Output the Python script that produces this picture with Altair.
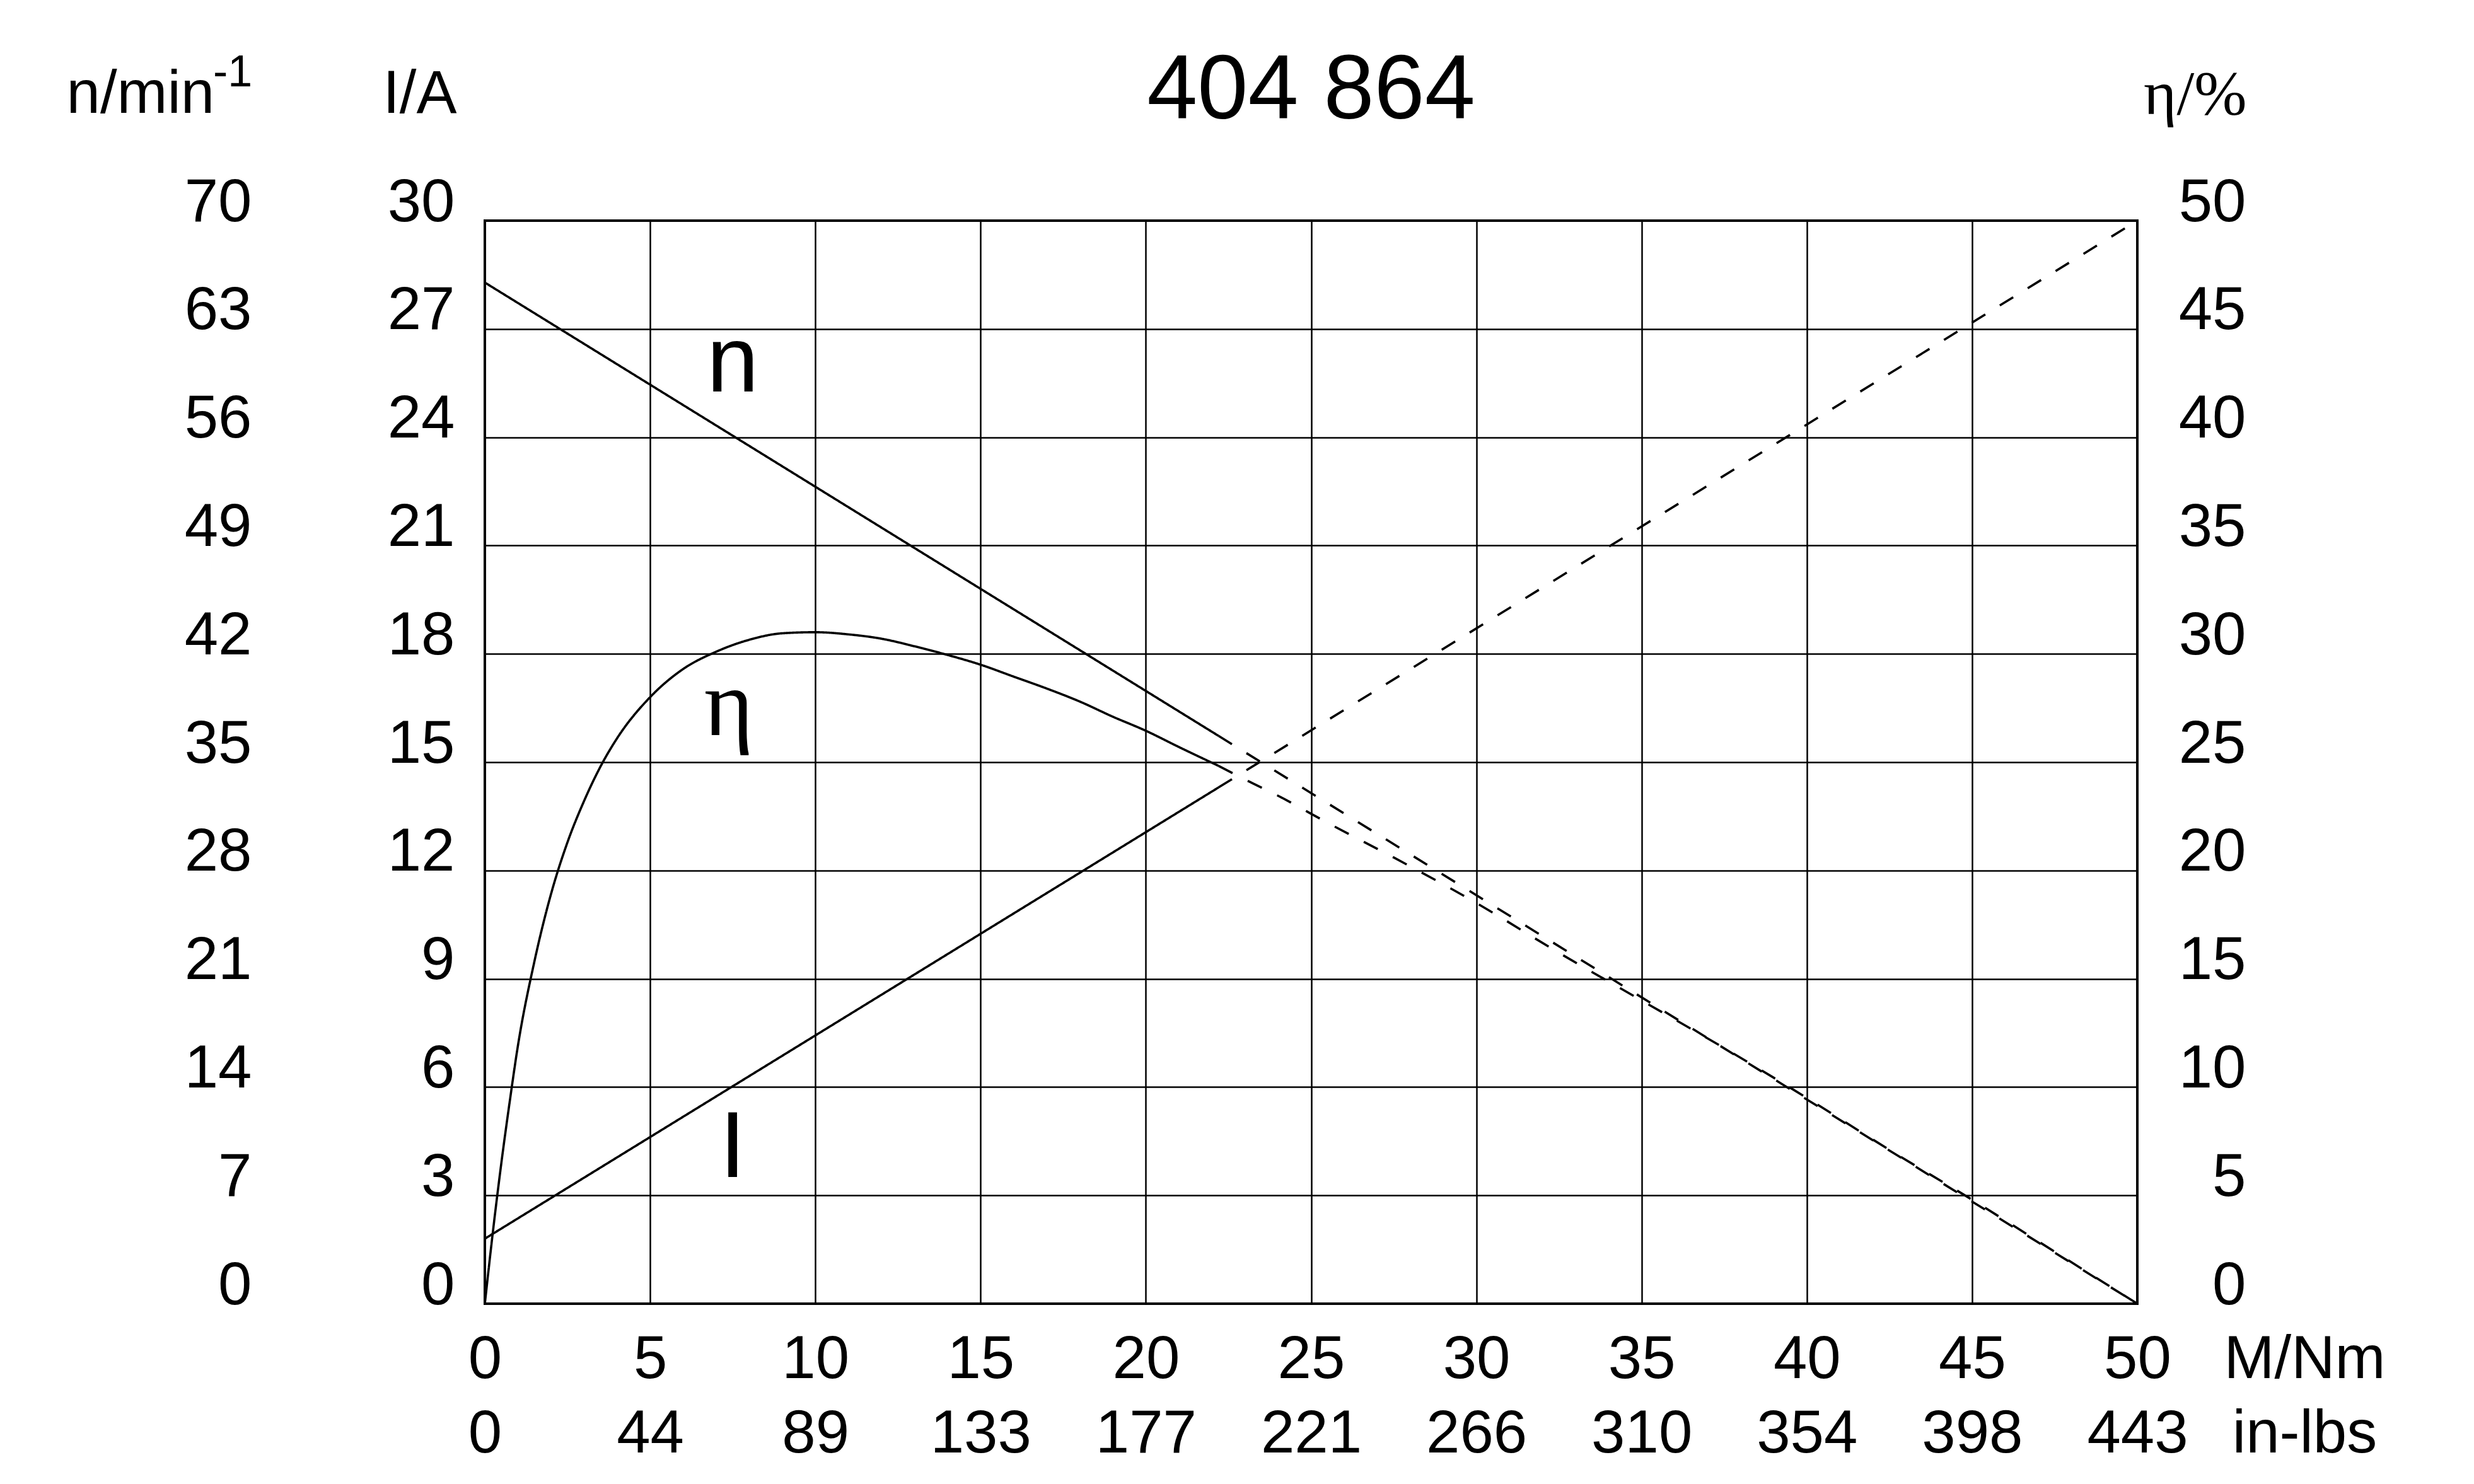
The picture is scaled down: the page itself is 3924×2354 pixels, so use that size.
import altair as alt
import pandas as pd

# ---------------- data ----------------
torque_ticks = [0, 5, 10, 15, 20, 25, 30, 35, 40, 45, 50]
inlbs_labels = ["0", "44", "89", "133", "177", "221", "266", "310", "354", "398", "443"]
current_ticks = [0, 3, 6, 9, 12, 15, 18, 21, 24, 27, 30]
speed_ticks = [0, 7, 14, 21, 28, 35, 42, 49, 56, 63, 70]
eff_ticks = [0, 5, 10, 15, 20, 25, 30, 35, 40, 45, 50]

# speed n (1/min)
n_torque = [0.0, 22.2, 22.2, 50.0]
n_speed = [66.0, 36.7, 36.7, 0.0]
n_style = ["solid", "solid", "dashed", "dashed"]

# current I (A)
i_torque = [0.0, 22.2, 22.2, 50.0]
i_current = [1.8, 14.3, 14.3, 30.0]
i_style = ["solid", "solid", "dashed", "dashed"]

# efficiency eta (%)
eta_torque_solid = [0, 0.25, 0.5, 0.75, 1.0, 1.5, 2, 2.5, 3, 3.5, 4, 5, 6, 7, 8, 9,
                    10, 11, 12, 13, 14, 15, 16, 17, 18, 19, 20, 21, 22.2]
eta_solid = [0, 3.4, 6.5, 9.3, 11.9, 15.8, 18.9, 21.3, 23.2, 24.8, 26.1, 28.0, 29.3,
             30.1, 30.65, 30.95, 31.0, 30.9, 30.7, 30.35, 29.95, 29.5, 28.95, 28.4,
             27.8, 27.1, 26.45, 25.7, 24.83]
eta_torque_dashed = [22.2, 23, 24, 25.5, 27.5, 30, 32.5, 35, 37.5, 40, 42.5, 45, 47.5, 50]
eta_dashed = [24.83, 24.2, 23.45, 22.2, 20.6, 18.5, 16.2, 14.0, 11.8, 9.5, 7.1, 4.8, 2.4, 0.0]

# curve labels inside the plot (positions in torque / current units)
sans_labels = ["n", "I"]
sans_label_torque = [7.5, 7.5]
sans_label_pos = [25.27, 3.51]
serif_labels = ["η"]
serif_label_torque = [7.38]
serif_label_pos = [15.75]

title_text = "404 864"

# ---------------- build tables ----------------
n_df = pd.DataFrame({"M": n_torque, "n": n_speed, "seg": n_style})
i_df = pd.DataFrame({"M": i_torque, "I": i_current, "seg": i_style})
eta_df = pd.DataFrame({
    "M": eta_torque_solid + eta_torque_dashed,
    "eta": eta_solid + eta_dashed,
    "seg": ["solid"] * len(eta_solid) + ["dashed"] * len(eta_dashed),
})
sans_df = pd.DataFrame({"M": sans_label_torque, "y": sans_label_pos, "t": sans_labels})
serif_df = pd.DataFrame({"M": serif_label_torque, "y": serif_label_pos, "t": serif_labels})

W, H = 2621, 1718
SANS = "Liberation Sans"
SERIF = "Liberation Serif"
FS = 96
GRID_W = 2.5
LINE_W = 3.6

x_scale = alt.Scale(domain=[0, 50], nice=False, zero=False)
dash_scale = alt.Scale(domain=["solid", "dashed"], range=[[1, 0], [25, 27]])

# in-lbs labels via a conditional chain (no arrays in the expression)
inlbs_expr = "''"
for v, lab in reversed(list(zip(torque_ticks, inlbs_labels))):
    inlbs_expr = "(abs(datum.value - %g) < 0.01 ? '%s' : %s)" % (v, lab, inlbs_expr)

axis_common = dict(tickSize=0, ticks=False, domain=False, labelFlush=False,
                   labelOverlap=False, titleAngle=0, titleBaseline="alphabetic",
                   labelBaseline="alphabetic")

x_axis_nm = alt.Axis(
    orient="bottom", values=torque_ticks, labelPadding=117,
    grid=True, gridColor="black", gridWidth=GRID_W, gridOpacity=1,
    title="M/Nm", titleX=2886, titleY=117, titleAlign="center", **axis_common,
)
x_axis_lbs = alt.Axis(
    orient="bottom", values=torque_ticks, labelExpr=inlbs_expr, labelPadding=235,
    grid=False, title="in-lbs", titleX=2886, titleY=235, titleAlign="center",
    **axis_common,
)

line_common = dict(strokeWidth=LINE_W, color="black")

i_layer = alt.Chart(i_df).mark_line(**line_common).encode(
    x=alt.X("M:Q", scale=x_scale, axis=x_axis_nm),
    y=alt.Y("I:Q", scale=alt.Scale(domain=[0, 30], nice=False, zero=False),
            axis=alt.Axis(orient="left", values=current_ticks, title="I/A",
                          titleX=-45, titleY=-172, titleAlign="right",
                          labelAlign="right", labelPadding=48,
                          grid=True, gridColor="black", gridWidth=GRID_W,
                          gridOpacity=1, **axis_common)),
    strokeDash=alt.StrokeDash("seg:N", scale=dash_scale, legend=None),
)

n_layer = alt.Chart(n_df).mark_line(**line_common).encode(
    x=alt.X("M:Q", scale=x_scale, axis=x_axis_lbs),
    y=alt.Y("n:Q", scale=alt.Scale(domain=[0, 70], nice=False, zero=False),
            axis=alt.Axis(orient="left", values=speed_ticks, title="n/min",
                          titleX=-664, titleY=-172, titleAlign="left",
                          labelAlign="right", labelPadding=370, grid=False,
                          **axis_common)),
    strokeDash=alt.StrokeDash("seg:N", scale=dash_scale, legend=None),
)

eta_layer = alt.Chart(eta_df).mark_line(interpolate="monotone", **line_common).encode(
    x=alt.X("M:Q", scale=x_scale, axis=None),
    y=alt.Y("eta:Q", scale=alt.Scale(domain=[0, 50], nice=False, zero=False),
            axis=alt.Axis(orient="right", values=eff_ticks, title="η/%",
                          titleFont=SERIF, titleFontSize=100,
                          titleX=173, titleY=-170, titleAlign="right",
                          labelAlign="right", labelPadding=172, grid=False,
                          **axis_common)),
    strokeDash=alt.StrokeDash("seg:N", scale=dash_scale, legend=None),
)

lab_scale = alt.Scale(domain=[0, 30], nice=False, zero=False)
sans_layer = alt.Chart(sans_df).mark_text(
    font=SANS, fontSize=148, baseline="alphabetic", align="center", color="black"
).encode(
    x=alt.X("M:Q", scale=x_scale, axis=None),
    y=alt.Y("y:Q", scale=lab_scale, axis=None),
    text="t:N",
)
serif_layer = alt.Chart(serif_df).mark_text(
    font=SERIF, fontSize=150, baseline="alphabetic", align="center", color="black"
).encode(
    x=alt.X("M:Q", scale=x_scale, axis=None),
    y=alt.Y("y:Q", scale=lab_scale, axis=None),
    text="t:N",
)

one = pd.DataFrame({"k": [0]})
sup_layer = alt.Chart(one).mark_text(
    text="-1", font=SANS, fontSize=70, align="left", baseline="alphabetic", color="black"
).encode(x=alt.value(-431), y=alt.value(-213))

title_layer = alt.Chart(one).mark_text(
    text=title_text, font=SANS, fontSize=144, align="center", baseline="alphabetic",
    color="black"
).encode(x=alt.value(W / 2), y=alt.value(-162))

chart = alt.layer(
    i_layer, n_layer, eta_layer, sans_layer, serif_layer, sup_layer, title_layer
).resolve_scale(x="independent", y="independent").properties(
    width=W, height=H,
    autosize=alt.AutoSizeParams(type="none"),
    padding={"left": 761, "top": 342, "right": 520, "bottom": 270},
    background="white",
).configure_view(
    stroke="black", strokeWidth=4
).configure_axis(
    labelFont=SANS, labelFontSize=FS, labelColor="black",
    titleFont=SANS, titleFontSize=FS, titleColor="black", titleFontWeight="normal",
)

chart.save("out.html", embed_options={"renderer": "svg", "actions": False})
